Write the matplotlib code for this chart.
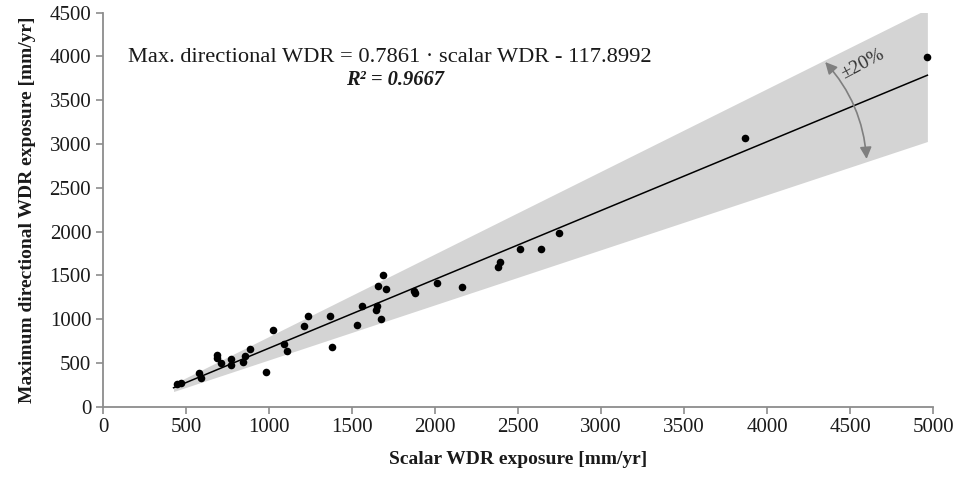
import numpy as np
import matplotlib
matplotlib.use("Agg")
import matplotlib.pyplot as plt
from matplotlib.patches import FancyArrowPatch

plt.rcParams['font.family'] = ['Liberation Serif', 'DejaVu Serif']

# scalar WDR exposure [mm/yr] vs maximum directional WDR exposure [mm/yr]
scalar_wdr = [444, 468, 580, 590, 685, 685, 711, 769, 769, 845,
              855, 886, 982, 1026, 1090, 1110, 1211, 1235, 1367, 1378,
              1528, 1558, 1643, 1649, 1675, 1658, 1685, 1705, 1875, 1880,
              2014, 2164, 2381, 2392, 2512, 2637, 2745, 3867, 4964]
max_dir_wdr = [259, 267, 381, 328, 590, 553, 503, 541, 476, 507,
               582, 656, 396, 876, 713, 640, 922, 1036, 1036, 685,
               937, 1153, 1104, 1150, 998, 1378, 1508, 1344, 1325, 1295,
               1416, 1364, 1592, 1649, 1798, 1798, 1987, 3065, 3997]

slope = 0.7861
intercept = -117.8992
r2 = 0.9667
band = 0.20
fit_range = [425, 4966]

x_fit = np.linspace(fit_range[0], fit_range[1], 50)
y_fit = slope * x_fit + intercept

fig = plt.figure(figsize=(9.6, 4.79), dpi=100)
ax = fig.add_axes([0.1073, 0.151, 0.8646, 0.8225])

ax.fill_between(x_fit, y_fit * (1 - band), y_fit * (1 + band),
                color='#d4d4d4', linewidth=0, zorder=1)
ax.plot(x_fit, y_fit, color='black', linewidth=1.1, zorder=2)
ax.scatter(scalar_wdr, max_dir_wdr, s=30, color='black', zorder=3,
           linewidths=0)

# +-20% arrow
arr = FancyArrowPatch((4339, 3960), (4601, 2798),
                      connectionstyle='arc3,rad=-0.18',
                      arrowstyle='<|-|>,head_length=7,head_width=3.5',
                      color='#7f7f7f', linewidth=1.2, zorder=4)
ax.add_patch(arr)
ax.text(4578, 3914, '±20%', rotation=28, fontsize=14, color='#333333',
        ha='center', va='center', zorder=5)

ax.text(1729, 3937, 'Max. directional WDR = 0.7861 · scalar WDR - 117.8992',
        fontsize=16.2, ha='center', va='baseline', color='#1a1a1a')
ax.text(1759, 3672, f'R² = {r2}', fontsize=14.8, ha='center', va='baseline',
        fontweight='bold', fontstyle='italic', color='#1a1a1a')

ax.set_xlim(0, 5000)
ax.set_ylim(0, 4500)
ax.set_xticks(np.arange(0, 5001, 500))
ax.set_yticks(np.arange(0, 4501, 500))
ax.margins(0)

for s in ['top', 'right']:
    ax.spines[s].set_visible(False)
for s in ['left', 'bottom']:
    ax.spines[s].set_color('#8c8c8c')
    ax.spines[s].set_linewidth(1.3)
ax.tick_params(axis='both', colors='#8c8c8c', length=5, width=1.2,
               labelsize=15, labelcolor='#1a1a1a')

ax.set_xlabel('Scalar WDR exposure [mm/yr]', fontsize=14, fontweight='bold',
              color='#1a1a1a', labelpad=10)
ax.set_ylabel('Maximum directional WDR exposure [mm/yr]', fontsize=14,
              fontweight='bold', color='#1a1a1a', labelpad=10)

fig.savefig('out.png', dpi=100)
